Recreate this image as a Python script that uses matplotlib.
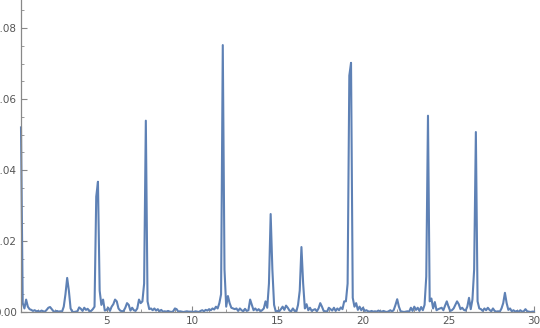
import numpy as np
import matplotlib
matplotlib.use("Agg")
import matplotlib.pyplot as plt
from matplotlib.ticker import MultipleLocator

# sample positions, step 0.1 from 0 to 30
x_vals = np.round(np.arange(0, 301) * 0.1, 1)

# values in units of 1e-3, one row per unit of x
y_milli = [
    52.0, 2.5, 1.0, 3.5, 1.5, 0.8, 0.6, 0.3, 0.5, 0.2,
    0.3, 0.1, 0.4, 0.2, 0.1, 0.6, 1.2, 1.4, 0.8, 0.2,
    0.1, 0.3, 0.1, 0.2, 0.1, 1.5, 5.0, 9.6, 6.0, 1.0,
    0.1, 0.0, 0.1, 0.2, 1.3, 0.9, 0.3, 1.2, 0.6, 0.9,
    0.2, 0.3, 0.8, 1.5, 32.5, 36.7, 6.0, 2.0, 3.5, 0.4,
    0.6, 1.2, 0.3, 1.5, 2.2, 3.5, 3.0, 1.0, 0.4, 0.2,
    0.3, 1.2, 2.5, 2.0, 0.4, 1.2, 0.5, 0.3, 1.0, 3.5,
    2.5, 3.0, 8.0, 53.9, 3.0, 0.8, 1.0, 0.5, 1.0, 0.4,
    0.8, 0.2, 0.6, 0.1, 0.2, 0.1, 0.3, 0.1, 0.0, 0.2,
    1.0, 0.8, 0.1, 0.2, 0.1, 0.0, 0.1, 0.2, 0.1, 0.1,
    0.1, 0.0, 0.2, 0.1, 0.0, 0.3, 0.5, 0.2, 0.6, 0.4,
    0.8, 0.5, 1.0, 0.7, 1.5, 1.0, 2.5, 5.0, 75.2, 12.0,
    1.5, 4.5, 2.5, 1.2, 1.0, 0.8, 1.0, 0.3, 1.0, 0.5,
    0.2, 0.9, 0.3, 0.5, 3.5, 2.0, 0.5, 1.0, 0.4, 0.8,
    0.2, 0.5, 1.0, 3.0, 1.2, 8.0, 27.6, 12.0, 2.0, 0.1,
    0.3, 0.2, 0.8, 1.5, 0.6, 1.8, 1.2, 0.4, 0.2, 1.0,
    0.3, 0.1, 2.0, 6.0, 18.3, 8.0, 1.0, 2.2, 0.5, 1.2,
    0.3, 0.6, 0.8, 0.2, 1.0, 2.5, 1.5, 0.3, 0.2, 0.1,
    1.2, 0.8, 0.4, 1.2, 0.3, 1.0, 0.5, 1.3, 0.8, 3.0,
    3.0, 8.0, 66.6, 70.2, 4.0, 1.5, 2.5, 0.6, 1.5, 0.5,
    1.2, 0.3, 0.5, 0.2, 0.1, 0.3, 0.1, 0.2, 0.1, 0.4,
    0.2, 0.1, 0.3, 0.1, 0.0, 0.2, 0.5, 0.1, 0.6, 2.0,
    3.6, 1.5, 0.2, 0.1, 0.0, 0.1, 0.2, 0.1, 1.2, 0.3,
    1.5, 0.6, 1.2, 0.3, 1.4, 0.5, 2.0, 10.0, 55.3, 3.0,
    3.8, 1.0, 2.8, 0.5, 0.8, 1.0, 1.2, 0.5, 1.8, 3.0,
    1.5, 0.3, 0.5, 1.0, 2.0, 3.0, 2.2, 0.8, 1.2, 0.6,
    0.4, 1.5, 4.0, 0.8, 3.5, 12.0, 50.7, 3.0, 1.0, 0.8,
    0.3, 1.0, 0.5, 1.2, 0.6, 0.2, 1.0, 0.3, 0.1, 0.2,
    0.1, 1.0, 2.5, 5.4, 2.5, 0.6, 1.0, 0.2, 0.5, 0.1,
    0.3, 0.1, 0.5, 0.1, 0.2, 0.8, 0.2, 0.1, 0.0, 0.1,
    0.1,
]
y_vals = np.array(y_milli) / 1000.0

x_ticks = [5, 10, 15, 20, 25, 30]
y_ticks = [0.00, 0.02, 0.04, 0.06, 0.08]

fig = plt.figure(figsize=(5.4, 3.28), dpi=100)
ax = fig.add_axes([21 / 540, 16 / 328, 513 / 540, 312 / 328])
ax.patch.set_alpha(0)

ax.plot(x_vals, y_vals, color='#5E81B5', lw=1.5, clip_on=False)

ax.set_xlim(0, 30)
ax.set_ylim(0, 0.0879)
ax.set_xticks(x_ticks)
ax.set_yticks(y_ticks)
ax.set_yticklabels([f"{v:.2f}" for v in y_ticks])
ax.xaxis.set_minor_locator(MultipleLocator(1))
ax.yaxis.set_minor_locator(MultipleLocator(0.005))

for s in ['top', 'right']:
    ax.spines[s].set_visible(False)
for s in ['left', 'bottom']:
    ax.spines[s].set_color('#888888')
    ax.spines[s].set_linewidth(0.9)

ax.tick_params(which='major', direction='in', length=4, width=0.8,
               color='#888888', labelcolor='#555555', labelsize=7.5, pad=3)
ax.tick_params(which='minor', direction='in', length=2.2, width=0.6,
               color='#888888')

fig.savefig('out.png', dpi=100)
